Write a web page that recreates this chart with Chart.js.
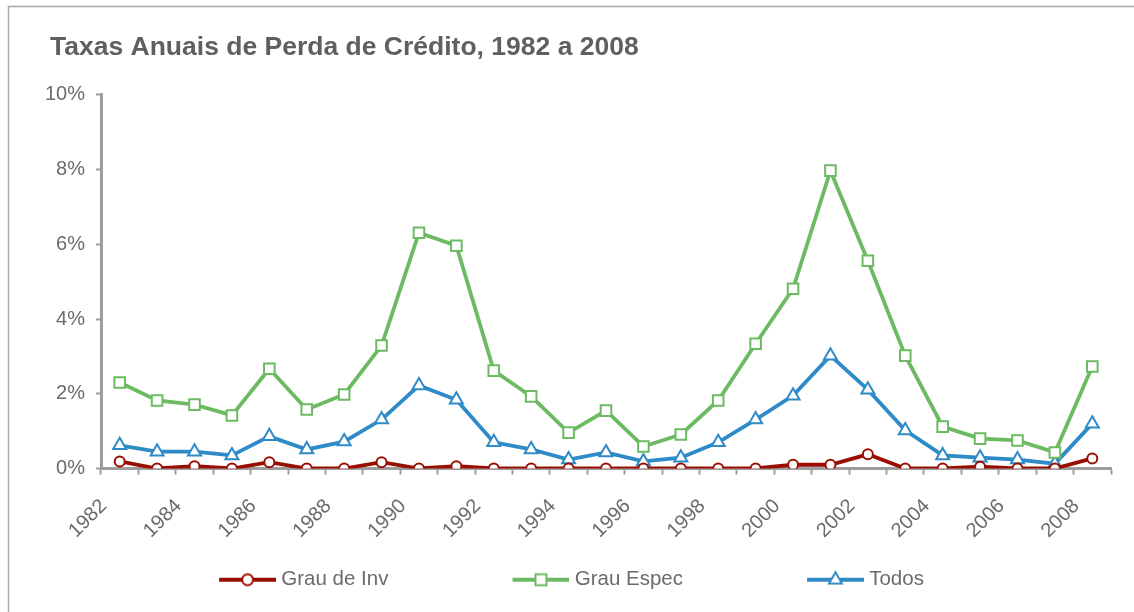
<!DOCTYPE html>
<html>
<head>
<meta charset="utf-8">
<script src="https://cdn.jsdelivr.net/npm/chart.js@4"></script>
<style>
html,body{margin:0;padding:0;background:#fff;}
#wrap{position:relative;width:1134px;height:612px;}
</style>
</head>
<body>
<div id="wrap"><canvas id="c" width="1134" height="612"></canvas></div>
<script>
const years = ['1982','1983','1984','1985','1986','1987','1988','1989','1990','1991','1992','1993','1994','1995','1996','1997','1998','1999','2000','2001','2002','2003','2004','2005','2006','2007','2008'];
const grauInv   = [0.19,0.00,0.06,0.00,0.17,0.00,0.00,0.17,0.00,0.06,0.00,0.00,0.00,0.00,0.00,0.00,0.00,0.00,0.10,0.10,0.38,0.00,0.00,0.05,0.00,0.00,0.27];
const grauEspec = [2.30,1.82,1.71,1.42,2.67,1.58,1.98,3.29,6.31,5.96,2.62,1.93,0.96,1.55,0.59,0.91,1.82,3.34,4.81,7.97,5.56,3.02,1.12,0.80,0.75,0.43,2.73];
const todos     = [0.62,0.45,0.45,0.35,0.86,0.51,0.72,1.31,2.22,1.84,0.70,0.51,0.24,0.43,0.19,0.29,0.70,1.31,1.95,3.02,2.11,1.02,0.35,0.29,0.24,0.13,1.20];
const seriesNames = ['Grau de Inv','Grau Espec','Todos'];
const yTickMin = 0, yTickMax = 10, yTickStep = 2;
const titleText = 'Taxas Anuais de Perda de Crédito, 1982 a 2008';

const RED = '#9a0e02', GREEN = '#6cbb63', BLUE = '#2e8bc7';
const AXIS = '#9d9d9d', LABEL = '#6b6b6b';
const FAMILY = "'Liberation Sans', Arial, sans-serif";
Chart.defaults.font.family = FAMILY;

const P = 166;
function icon(color, style, r) {
  const W = P + 10, H = 20;
  const c = document.createElement('canvas');
  c.width = W; c.height = H;
  const g = c.getContext('2d');
  g.strokeStyle = color; g.lineWidth = 4;
  g.beginPath(); g.moveTo(W - 57, H / 2); g.lineTo(W, H / 2); g.stroke();
  const cx = W - 28.5, cy = H / 2;
  g.fillStyle = '#fff'; g.lineWidth = 2;
  g.beginPath();
  if (style === 'circle') g.arc(cx, cy, r, 0, Math.PI * 2);
  else if (style === 'rect') g.rect(cx - r, cy - r, 2 * r, 2 * r);
  else { g.moveTo(cx, cy - r); g.lineTo(cx + r * 0.866, cy + r / 2); g.lineTo(cx - r * 0.866, cy + r / 2); g.closePath(); }
  g.fill(); g.stroke();
  return c;
}
const icons = [icon(RED, 'circle', 5.5), icon(GREEN, 'rect', 5.5), icon(BLUE, 'triangle', 7.5)];

const framePlugin = {
  id: 'frame',
  beforeDraw(chart) {
    const ctx = chart.ctx;
    ctx.save();
    ctx.strokeStyle = '#a8a8a8'; ctx.lineWidth = 1.5;
    ctx.beginPath(); ctx.moveTo(8.5, 612); ctx.lineTo(8.5, 6.5); ctx.lineTo(1134, 6.5); ctx.stroke();
    ctx.restore();
  }
};
const boxShift = {
  id: 'boxShift',
  afterLayout(chart) {
    if (chart.legend) { chart.legend.left -= 61; chart.legend.right -= 61; }
    if (chart.titleBlock) { chart.titleBlock.left += 10; chart.titleBlock.right += 10; }
  }
};

function ds(label, data, color, style, radius) {
  return {
    label, data,
    borderColor: color, backgroundColor: '#fff',
    borderWidth: 3.8, tension: 0,
    pointStyle: style, pointRadius: radius, pointBorderWidth: 2,
    pointBackgroundColor: '#fff', pointBorderColor: color,
    pointHoverRadius: radius
  };
}

new Chart(document.getElementById('c'), {
  type: 'line',
  data: {
    labels: years,
    datasets: [
      ds(seriesNames[0], grauInv, RED, 'circle', 5),
      ds(seriesNames[1], grauEspec, GREEN, 'rect', 7.5),
      ds(seriesNames[2], todos, BLUE, 'triangle', 7.5)
    ]
  },
  options: {
    responsive: false,
    animation: false,
    devicePixelRatio: 1,
    layout: { padding: { left: 40, right: 23, top: 0, bottom: 12 } },
    plugins: {
      title: {
        display: true, text: titleText, align: 'start', color: '#5f5f5f',
        font: { family: FAMILY, size: 26.5, weight: 'bold' },
        padding: { top: 32, bottom: 31 }
      },
      legend: {
        position: 'bottom',
        labels: {
          usePointStyle: true, pointStyleWidth: P, padding: 10,
          color: LABEL, font: { family: FAMILY, size: 20.5 },
          generateLabels(chart) {
            const items = Chart.defaults.plugins.legend.labels.generateLabels(chart);
            items.forEach((it, i) => { it.pointStyle = icons[i]; });
            return items;
          }
        }
      },
      tooltip: { enabled: false }
    },
    scales: {
      x: {
        offset: true,
        grid: { offset: true, drawOnChartArea: false, drawTicks: true, tickLength: 6, tickWidth: 2, tickColor: AXIS },
        border: { color: AXIS, width: 3 },
        ticks: {
          autoSkip: false, maxRotation: 45, minRotation: 45, padding: 20, labelOffset: -16,
          color: LABEL, font: { family: FAMILY, size: 20 },
          callback(v, i) { return i % 2 === 0 ? this.getLabelForValue(v) : ''; }
        },
        afterFit(s) { s.height = 91; }
      },
      y: {
        min: yTickMin, max: yTickMax,
        grid: { drawOnChartArea: false, drawTicks: true, tickLength: 5, tickWidth: 2, tickColor: AXIS },
        border: { color: AXIS, width: 3 },
        ticks: {
          stepSize: yTickStep, padding: 11, color: LABEL, font: { family: FAMILY, size: 20 },
          callback: v => v + '%'
        },
        afterFit(s) { s.width = 61; }
      }
    }
  },
  plugins: [framePlugin, boxShift]
});
</script>
</body>
</html>
